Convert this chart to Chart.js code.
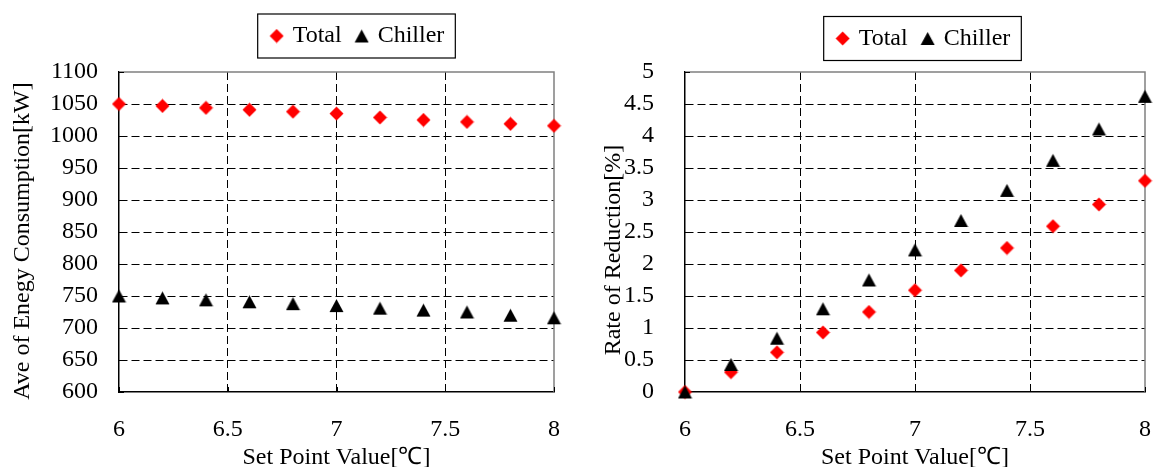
<!DOCTYPE html>
<html>
<head>
<meta charset="utf-8">
<script src="https://cdn.jsdelivr.net/npm/chart.js@4.4.1/dist/chart.umd.min.js"></script>
<style>
html, body { margin: 0; padding: 0; background: #fff; }
.panel { position: absolute; top: 0; height: 467px; }
.panel canvas { display: block; }
#left { left: 0; width: 576px; }
#right { left: 576px; width: 577px; }
</style>
</head>
<body>
<div class="panel" id="left"><canvas id="energyChart" width="576" height="467"></canvas></div>
<div class="panel" id="right"><canvas id="reductionChart" width="577" height="467"></canvas></div>
<script>
// Data
const setPoints = [6, 6.2, 6.4, 6.6, 6.8, 7, 7.2, 7.4, 7.6, 7.8, 8];
const totalEnergy = [1050, 1047, 1044, 1041, 1038, 1035, 1029, 1025, 1022, 1019, 1016];
const chillerEnergy = [750, 747, 744, 741, 738, 735, 731, 728, 725, 720, 716];
const totalReduction = [0, 0.31, 0.62, 0.93, 1.25, 1.59, 1.9, 2.25, 2.59, 2.93, 3.3];
const chillerReduction = [0, 0.43, 0.84, 1.3, 1.75, 2.22, 2.68, 3.15, 3.62, 4.11, 4.62];

const xTicks = [6, 6.5, 7, 7.5, 8];
const energyTicks = [600, 650, 700, 750, 800, 850, 900, 950, 1000, 1050, 1100];
const reductionTicks = [0, 0.5, 1, 1.5, 2, 2.5, 3, 3.5, 4, 4.5, 5];

const FONT = "'Liberation Serif', 'Times New Roman', serif";
Chart.defaults.font.family = FONT;
Chart.defaults.font.size = 24;
Chart.defaults.color = '#000';

// Marker images (centred on the value like the original)
function makeMarker(shape, color) {
    const c = document.createElement('canvas');
    c.width = 15; c.height = 15;
    const g = c.getContext('2d');
    g.fillStyle = color;
    g.beginPath();
    if (shape === 'diamond') {
        g.moveTo(7.5, 0.5); g.lineTo(14.5, 7.5); g.lineTo(7.5, 14.5); g.lineTo(0.5, 7.5);
    } else {
        g.moveTo(7.5, 1); g.lineTo(14.5, 14); g.lineTo(0.5, 14);
    }
    g.closePath();
    g.fill();
    return c;
}
const diamond = makeMarker('diamond', '#ff0000');
const triangle = makeMarker('triangle', '#000000');

const toPoints = ys => setPoints.map((x, i) => ({ x: x, y: ys[i] }));

// grey top/right frame and short inside tick marks
const framePlugin = {
    id: 'frame',
    beforeDatasetsDraw(chart) {
        const { ctx, chartArea: a, scales } = chart;
        ctx.save();
        ctx.strokeStyle = '#808080';
        ctx.lineWidth = 1.5;
        ctx.beginPath();
        ctx.moveTo(a.left, a.top);
        ctx.lineTo(a.right, a.top);
        ctx.lineTo(a.right, a.bottom);
        ctx.stroke();
        ctx.strokeStyle = '#000';
        ctx.lineWidth = 1;
        ctx.beginPath();
        scales.y.ticks.forEach(t => {
            const y = Math.round(scales.y.getPixelForValue(t.value)) + 0.5;
            ctx.moveTo(a.left, y); ctx.lineTo(a.left + 5, y);
        });
        scales.x.ticks.forEach(t => {
            const x = Math.round(scales.x.getPixelForValue(t.value)) + 0.5;
            ctx.moveTo(x, a.bottom); ctx.lineTo(x, a.bottom - 5);
        });
        ctx.stroke();
        ctx.restore();
    }
};

// boxed legend like the original
const boxLegend = {
    id: 'boxLegend',
    afterDraw(chart, args, opts) {
        const ctx = chart.ctx;
        const sets = chart.data.datasets;
        ctx.save();
        ctx.font = '24px ' + FONT;
        const widths = sets.map(d => ctx.measureText(d.label).width);
        let w = 19 + 11;
        widths.forEach((tw, i) => { w += 16 + tw + (i < widths.length - 1 ? 20 : 0); });
        const h = 44;
        const left = opts.cx - w / 2, top = opts.cy - h / 2;
        ctx.fillStyle = '#fff';
        ctx.fillRect(left, top, w, h);
        ctx.strokeStyle = '#000';
        ctx.lineWidth = 1.2;
        ctx.strokeRect(left, top, w, h);
        let x = left + 19;
        ctx.fillStyle = '#000';
        ctx.textBaseline = 'middle';
        sets.forEach((d, i) => {
            const img = d.pointStyle;
            ctx.drawImage(img, x - img.width / 2, opts.cy - img.height / 2);
            ctx.fillText(d.label, x + 16, opts.cy);
            x += 16 + widths[i] + 20;
        });
        ctx.restore();
    }
};

function gridColor(list) {
    return c => (c.tick && (c.tick.value === list[0] || c.tick.value === list[list.length - 1])) ? 'rgba(0,0,0,0)' : '#000';
}

function xAxis() {
    return {
        type: 'linear', min: xTicks[0], max: xTicks[xTicks.length - 1],
        afterBuildTicks: s => { s.ticks = xTicks.map(v => ({ value: v })); },
        afterFit: s => { s.height = 75; s.paddingLeft = 0; s.paddingRight = 0; },
        ticks: { padding: 23, maxRotation: 0, autoSkip: false, callback: v => String(v) },
        grid: { color: gridColor(xTicks), lineWidth: 1, drawTicks: false },
        border: { color: '#000', width: 1.5, dash: [8, 4] },
        title: { display: true, text: 'Set Point Value[℃]', font: { size: 24, lineHeight: 0.8 }, padding: 0 }
    };
}

function yAxis(list, width, tickPad, title, titlePad) {
    return {
        type: 'linear', min: list[0], max: list[list.length - 1],
        afterBuildTicks: s => { s.ticks = list.map(v => ({ value: v })); },
        afterFit: s => { s.width = width; s.paddingTop = 0; s.paddingBottom = 0; },
        ticks: { padding: tickPad, autoSkip: false, callback: v => String(v) },
        grid: { color: gridColor(list), lineWidth: 1, drawTicks: false },
        border: { color: '#000', width: 1.5, dash: [8, 4] },
        title: { display: true, text: title, padding: { top: titlePad, bottom: 0 } }
    };
}

function makeChart(id, totals, chillers, yList, yWidth, tickPad, yTitle, titlePad, padRight, legendPos) {
    return new Chart(document.getElementById(id), {
        type: 'scatter',
        data: {
            datasets: [
                { label: 'Total', data: toPoints(totals), pointStyle: diamond, pointRadius: 7, clip: false, order: 1 },
                { label: 'Chiller', data: toPoints(chillers), pointStyle: triangle, pointRadius: 7, clip: false, order: 0 }
            ]
        },
        options: {
            responsive: false,
            animation: false,
            layout: { padding: { top: 72, right: padRight, bottom: 0, left: 0 } },
            plugins: {
                legend: { display: false },
                tooltip: { enabled: false },
                boxLegend: legendPos
            },
            scales: {
                x: xAxis(),
                y: yAxis(yList, yWidth, tickPad, yTitle, titlePad)
            }
        },
        plugins: [framePlugin, boxLegend]
    });
}

makeChart('energyChart', totalEnergy, chillerEnergy, energyTicks, 119, 21,
    'Ave of Enegy Consumption[kW]   ', 8, 22, { cx: 356.5, cy: 36 });
makeChart('reductionChart', totalReduction, chillerReduction, reductionTicks, 109, 31,
    'Rate of Reduction[%]      ', 23, 6, { cx: 346.5, cy: 38.5 });
</script>
</body>
</html>
